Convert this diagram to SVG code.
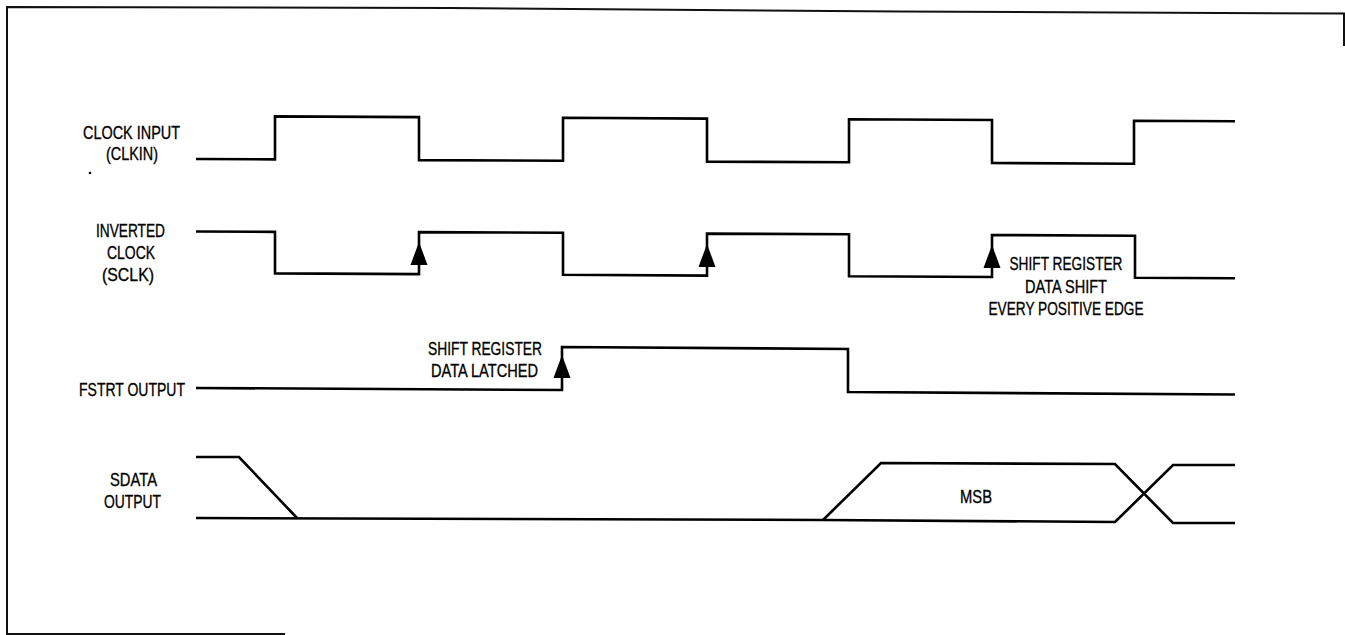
<svg xmlns="http://www.w3.org/2000/svg" width="1345" height="635" viewBox="0 0 1345 635">
<style>
.wave{fill:none;stroke:#000;stroke-width:2.6;stroke-linejoin:miter;stroke-linecap:butt}
.frame{fill:none;stroke:#111;stroke-width:2}
.lbl{font-family:"Liberation Sans Narrow","Liberation Sans",Arial,sans-serif;font-size:19px;fill:#000;stroke:#000;stroke-width:0.35;text-anchor:middle}
</style>
<defs>
<path id="edge" d="M0,0 L8.5,23 L-8.5,23 Z" fill="#000"/>
</defs>
<rect width="1345" height="635" fill="#fff"/>
<g id="frame">
<polyline class="frame" points="285,634 7,634 7,7 450,8 900,11.5 1344,13.5 1344,46"/>
</g>
<g id="labels">
<text class="lbl" x="131.5" y="139" textLength="97" lengthAdjust="spacingAndGlyphs">CLOCK INPUT</text>
<text class="lbl" x="132" y="160" textLength="52" lengthAdjust="spacingAndGlyphs">(CLKIN)</text>
<text class="lbl" x="130.5" y="237" textLength="69" lengthAdjust="spacingAndGlyphs">INVERTED</text>
<text class="lbl" x="131" y="259" textLength="48" lengthAdjust="spacingAndGlyphs">CLOCK</text>
<text class="lbl" x="128" y="281" textLength="52" lengthAdjust="spacingAndGlyphs">(SCLK)</text>
<text class="lbl" x="132" y="396" textLength="106" lengthAdjust="spacingAndGlyphs">FSTRT OUTPUT</text>
<text class="lbl" x="133.5" y="486" textLength="47" lengthAdjust="spacingAndGlyphs">SDATA</text>
<text class="lbl" x="132.5" y="508" textLength="57" lengthAdjust="spacingAndGlyphs">OUTPUT</text>
<circle cx="90" cy="173" r="1.3" fill="#000"/>
</g>
<g id="connectors">
<g id="clkin">
<polyline class="wave" points="196,159 275,159.4 275,116.4 419,117.1 419,160.1 563,160.8 563,117.8 707,118.6 707,161.6 849,162.3 849,119.3 992,120 992,163 1134,163.7 1134,120.7 1235,121.2"/>
</g>
<g id="sclk">
<polyline class="wave" points="196,231.5 275,231.9 275,273.4 419,274.1 419,232.1 563,232.8 563,274.8 707,275.6 707,233.6 849,234.3 849,276.3 992,277 992,235 1135,235.7 1135,277.7 1235,278.2"/>
<use href="#edge" x="419" y="242"/>
<use href="#edge" x="707" y="244"/>
<use href="#edge" x="992" y="245"/>
<text class="lbl" x="1066" y="270" textLength="113" lengthAdjust="spacingAndGlyphs">SHIFT REGISTER</text>
<text class="lbl" x="1066" y="292.5" textLength="82" lengthAdjust="spacingAndGlyphs">DATA SHIFT</text>
<text class="lbl" x="1066" y="315" textLength="155" lengthAdjust="spacingAndGlyphs">EVERY POSITIVE EDGE</text>
</g>
<g id="fstrt">
<polyline class="wave" points="196,388 562,390 562,347 848,349 848,392 1235,394.5"/>
<use href="#edge" x="562" y="355"/>
<text class="lbl" x="485" y="355" textLength="114" lengthAdjust="spacingAndGlyphs">SHIFT REGISTER</text>
<text class="lbl" x="484.5" y="377" textLength="107" lengthAdjust="spacingAndGlyphs">DATA LATCHED</text>
</g>
<g id="sdata">
<polyline class="wave" points="196,457 239,457 297,518"/>
<polyline class="wave" points="196,518 823,520 1115,522 1173,465 1235,465"/>
<polyline class="wave" points="823,520 881,463 1115,464 1173,523 1235,523"/>
<text class="lbl" x="976" y="503" textLength="32" lengthAdjust="spacingAndGlyphs">MSB</text>
</g>
</g>
</svg>
